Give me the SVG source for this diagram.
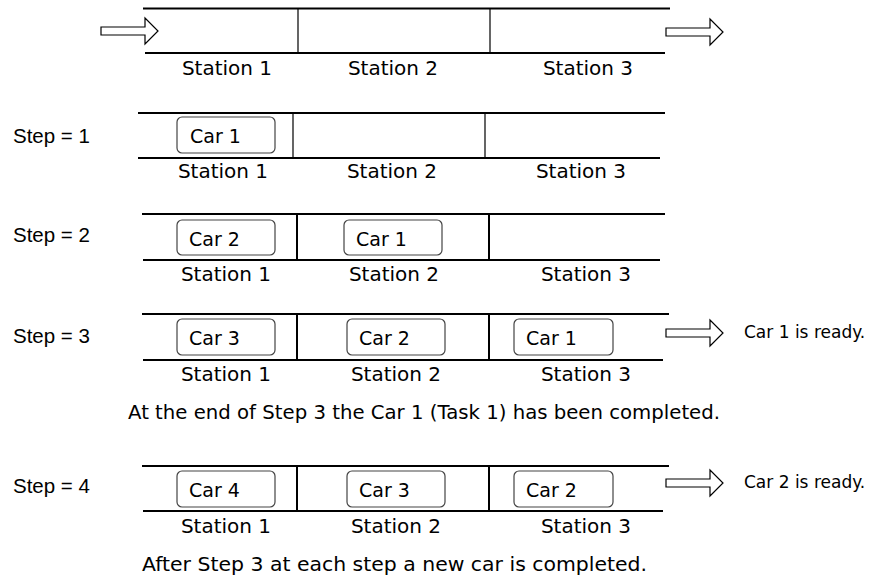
<svg xmlns="http://www.w3.org/2000/svg" width="893" height="578" viewBox="0 0 893 578">
<style>
.ln{stroke:#000;stroke-width:2;fill:none}
.dv{stroke:#000;stroke-width:2;fill:none}
.dt{stroke:#000;stroke-width:1.2;fill:none}
.box{fill:#fff;stroke:#444;stroke-width:1.2}
.arr{fill:#fff;stroke:#000;stroke-width:1.2;stroke-linejoin:miter}
.cs{font-family:"DejaVu Sans","Noto Sans",sans-serif;font-size:19px;fill:#000}
.sn{font-family:"DejaVu Sans","Noto Sans",sans-serif;font-size:20px;fill:#000;text-anchor:middle}
.rd{font-family:"DejaVu Sans","Noto Sans",sans-serif;font-size:17px;fill:#000}
.st{font-family:"Liberation Sans",Arial,sans-serif;font-size:20.5px;fill:#000}
</style>
<defs>
<polygon id="ar" points="0,-4 44,-4 44,-13 57,0 44,13 44,4 0,4"/>
</defs>
<g id="row0">
<path class="ln" d="M143 8.5H670M145 53H665"/>
<path class="dt" d="M298 8.5V53M490 8.5V53"/>
<text class="sn" x="227" y="75">Station 1</text>
<text class="sn" x="393" y="75">Station 2</text>
<text class="sn" x="588" y="75">Station 3</text>
</g>
<g id="row1">
<text class="st" x="13" y="143">Step = 1</text>
<path class="ln" d="M138 113H665M138 158H660"/>
<path class="dt" d="M293 113V158M485 113V158"/>
<g id="r1car1"><rect class="box" x="177" y="117" width="98" height="36" rx="5"/><text class="cs" x="190" y="143">Car 1</text></g>
<text class="sn" x="223" y="178">Station 1</text>
<text class="sn" x="392" y="178">Station 2</text>
<text class="sn" x="581" y="178">Station 3</text>
</g>
<g id="row2">
<text class="st" x="13" y="242">Step = 2</text>
<path class="ln" d="M142 214H665M143 260H660"/>
<path class="dv" d="M297 214V260M489 214V260"/>
<g id="r2car2"><rect class="box" x="177" y="220" width="98" height="35" rx="5"/><text class="cs" x="189" y="246">Car 2</text></g>
<g id="r2car1"><rect class="box" x="344" y="220" width="98" height="35" rx="5"/><text class="cs" x="356" y="246">Car 1</text></g>
<text class="sn" x="226" y="281">Station 1</text>
<text class="sn" x="394" y="281">Station 2</text>
<text class="sn" x="586" y="281">Station 3</text>
</g>
<g id="row3">
<text class="st" x="13" y="343">Step = 3</text>
<path class="ln" d="M142 314H669M143 360H663"/>
<path class="dv" d="M297 314V360M489 314V360"/>
<g id="r3car3"><rect class="box" x="177" y="319" width="98" height="36" rx="5"/><text class="cs" x="189" y="345">Car 3</text></g>
<g id="r3car2"><rect class="box" x="347" y="319" width="98" height="36" rx="5"/><text class="cs" x="359" y="345">Car 2</text></g>
<g id="r3car1"><rect class="box" x="514" y="319" width="99" height="36" rx="5"/><text class="cs" x="526" y="345">Car 1</text></g>
<text class="sn" x="226" y="381">Station 1</text>
<text class="sn" x="396" y="381">Station 2</text>
<text class="sn" x="586" y="381">Station 3</text>
<text class="rd" x="744" y="338">Car 1 is ready.</text>
<text class="sn" x="128" y="419" style="text-anchor:start" textLength="592" lengthAdjust="spacingAndGlyphs">At the end of <tspan>Step 3</tspan> the Car 1 (Task 1) has been completed.</text>
</g>
<g id="row4">
<text class="st" x="13" y="493">Step = 4</text>
<path class="ln" d="M142 466H669M143 511H663"/>
<path class="dv" d="M297 466V511M489 466V511"/>
<g id="r4car4"><rect class="box" x="177" y="471" width="98" height="36" rx="5"/><text class="cs" x="189" y="497">Car 4</text></g>
<g id="r4car3"><rect class="box" x="347" y="471" width="98" height="36" rx="5"/><text class="cs" x="359" y="497">Car 3</text></g>
<g id="r4car2"><rect class="box" x="514" y="471" width="99" height="36" rx="5"/><text class="cs" x="526" y="497">Car 2</text></g>
<text class="sn" x="226" y="533">Station 1</text>
<text class="sn" x="396" y="533">Station 2</text>
<text class="sn" x="586" y="533">Station 3</text>
<text class="rd" x="744" y="488">Car 2 is ready.</text>
<text class="sn" x="142" y="571" style="text-anchor:start" textLength="505" lengthAdjust="spacingAndGlyphs">After <tspan>Step 3</tspan> at each step a new car is completed.</text>
</g>
<g id="connectors">
<use href="#ar" class="arr" x="101" y="31"/>
<use href="#ar" class="arr" x="666" y="32"/>
<use href="#ar" class="arr" x="666" y="333"/>
<use href="#ar" class="arr" x="666" y="483"/>
</g>
</svg>
